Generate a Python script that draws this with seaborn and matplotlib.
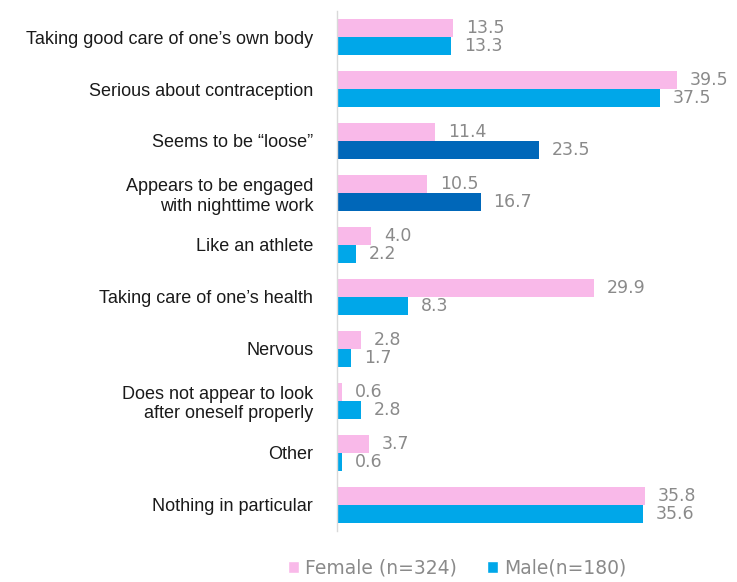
import numpy as np
import pandas as pd
import matplotlib
matplotlib.use("Agg")
import matplotlib.pyplot as plt
import seaborn as sns
from matplotlib.patches import Patch

categories = ["Taking good care of one\u2019s own body",
              "Serious about contraception",
              "Seems to be \u201cloose\u201d",
              "Appears to be engaged\nwith nighttime work",
              "Like an athlete",
              "Taking care of one\u2019s health",
              "Nervous",
              "Does not appear to look\nafter oneself properly",
              "Other",
              "Nothing in particular"]
female = [13.5, 39.5, 11.4, 10.5, 4.0, 29.9, 2.8, 0.6, 3.7, 35.8]
male = [13.3, 37.5, 23.5, 16.7, 2.2, 8.3, 1.7, 2.8, 0.6, 35.6]
series = ["Female (n=324)", "Male(n=180)"]

pink = "#F9B9E9"
blue = "#00A7E9"
dark_blue = "#0067B9"
highlight = [2, 3]  # male bars drawn darker

df = pd.DataFrame({
    "cat": categories * 2,
    "val": female + male,
    "sex": [series[0]] * len(categories) + [series[1]] * len(categories),
})

sns.set_style("white")
plt.rcParams["font.family"] = ["Liberation Sans", "DejaVu Sans"]

fig = plt.figure(figsize=(7.37, 5.82), dpi=100)
ax = fig.add_axes([0.457, 0.088, 0.543, 0.893])

sns.barplot(data=df, y="cat", x="val", hue="sex", orient="h",
            palette=[pink, blue], width=0.7, ax=ax, legend=False,
            saturation=1, edgecolor="none")

for i in highlight:
    ax.containers[1][i].set_facecolor(dark_blue)

for cont in ax.containers:
    for bar in cont:
        w = bar.get_width()
        ax.text(w + 1.5, bar.get_y() + bar.get_height() / 2, f"{w:.1f}",
                va="center", ha="left", color="#8a8a8a", fontsize=12.5,
                family="DejaVu Sans")

ax.set_xlim(0, 46.5)
ax.set_ylim(9.5, -0.5)
ax.set_xlabel("")
ax.set_ylabel("")
ax.set_xticks([])
ax.tick_params(axis="y", length=0, pad=17, labelsize=13, labelcolor="#1a1a1a")
for lbl in ax.get_yticklabels():
    lbl.set_horizontalalignment("right")
for s in ["top", "right", "bottom"]:
    ax.spines[s].set_visible(False)
ax.spines["left"].set_color("#d9d9d9")
ax.spines["left"].set_linewidth(1)

handles = [Patch(facecolor=pink, label=series[0]),
           Patch(facecolor=blue, label=series[1])]
fig.legend(handles=handles, loc="center", bbox_to_anchor=(0.62, 0.024),
           ncol=2, frameon=False, handlelength=0.6, handleheight=0.6,
           handletextpad=0.3, columnspacing=1.6,
           prop={"family": "DejaVu Sans", "size": 13.5}, labelcolor="#8a8a8a")

fig.savefig("out.png", dpi=100)
